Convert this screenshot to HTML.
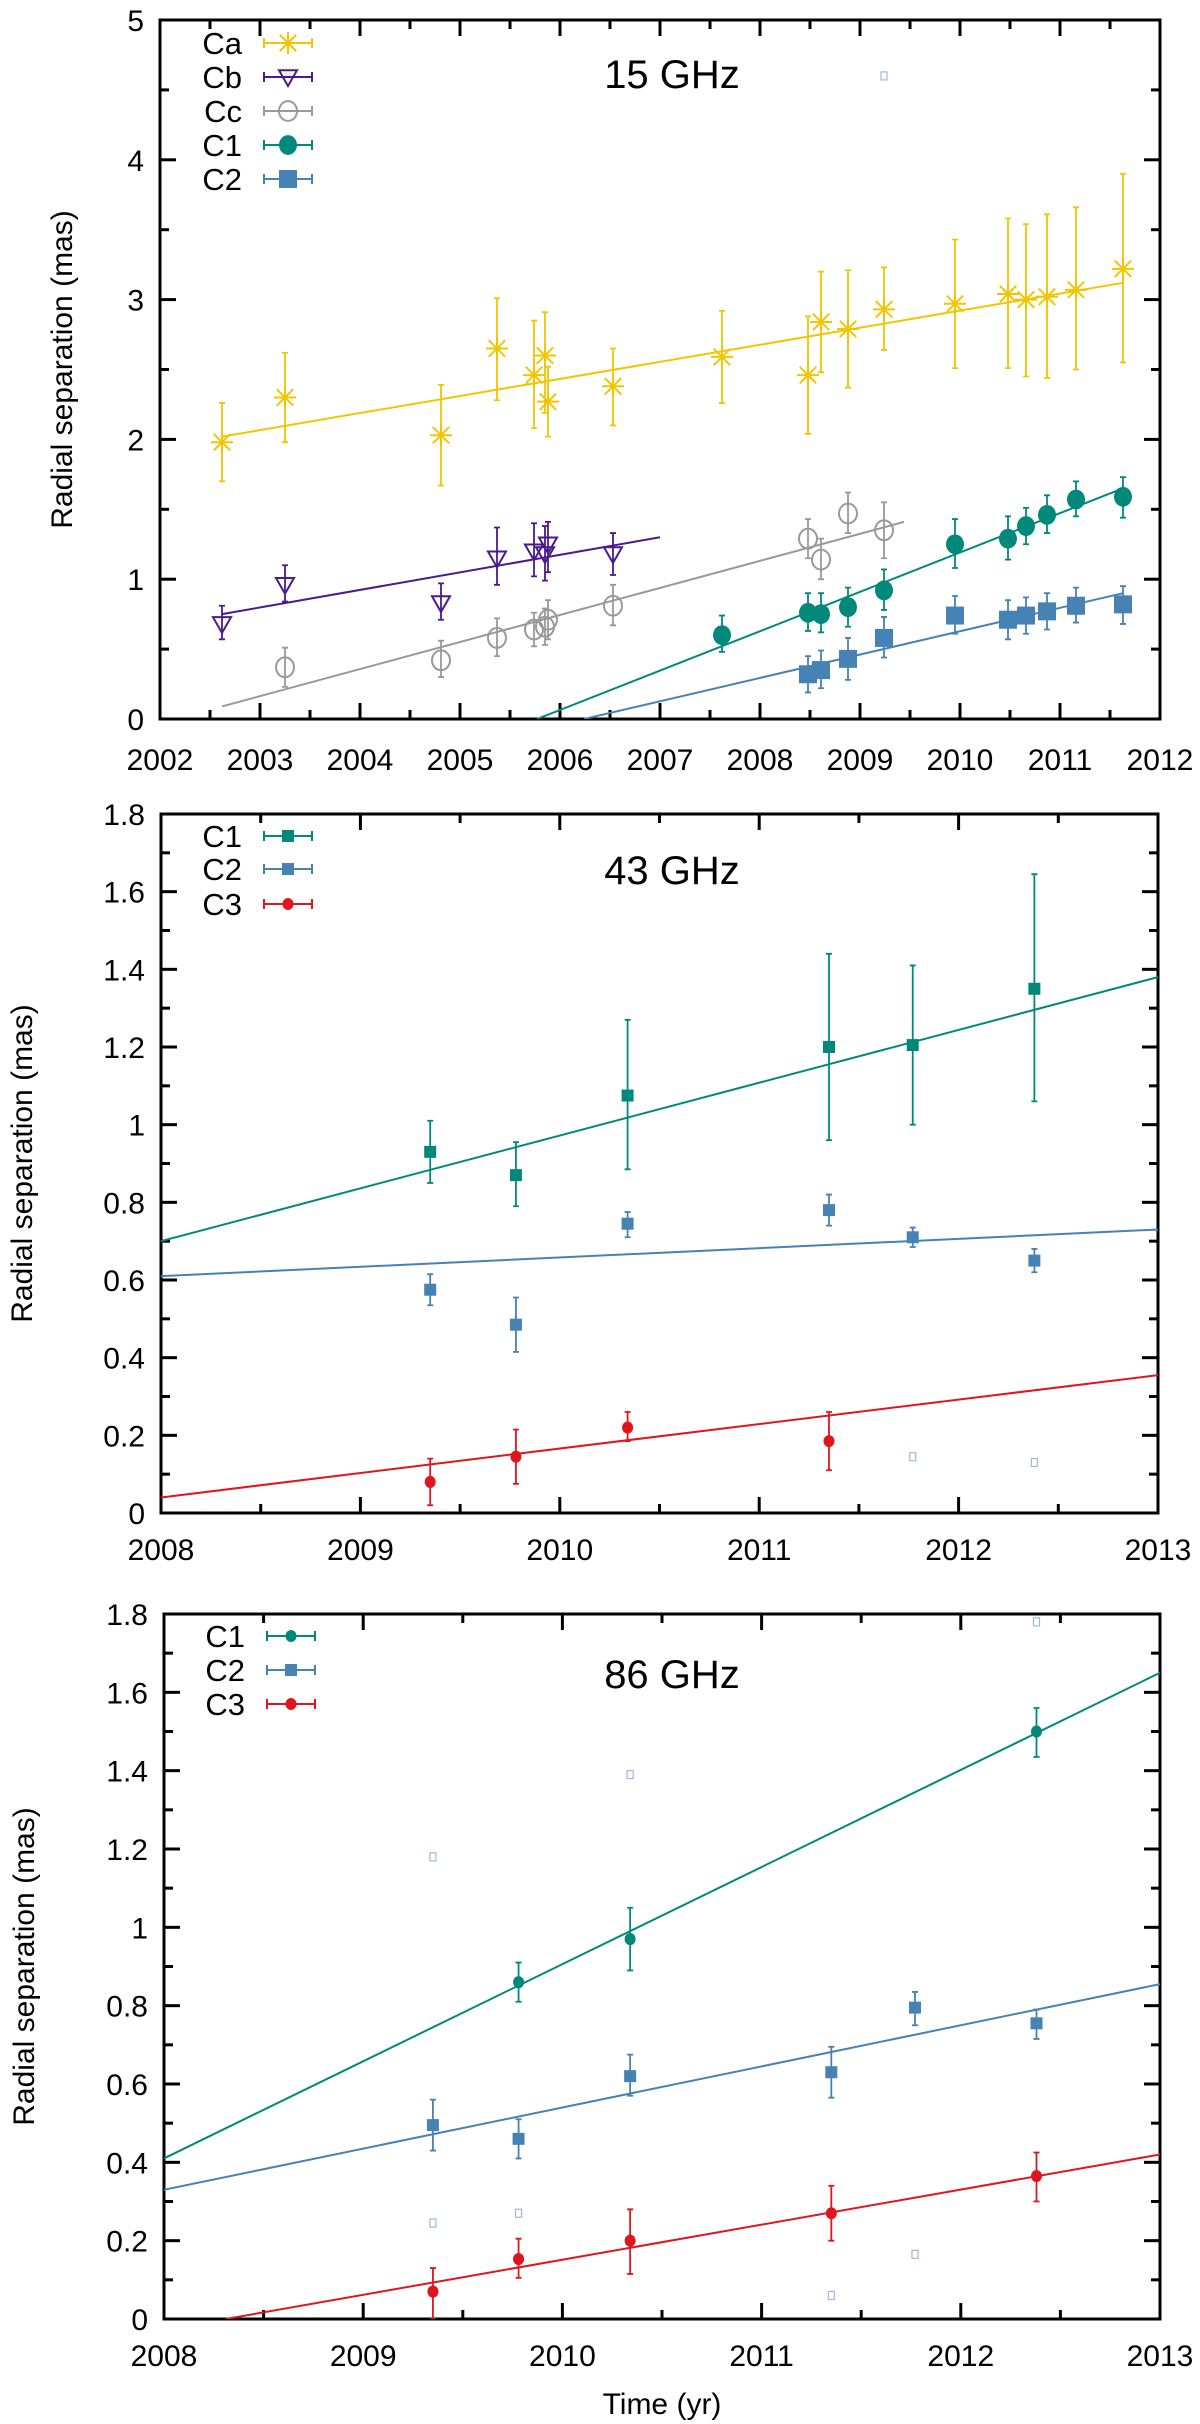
<!DOCTYPE html>
<html><head><meta charset="utf-8"><style>
html,body{margin:0;padding:0;background:#fff;}
svg{display:block;font-family:"Liberation Sans",sans-serif;}
</style></head><body>
<svg id="fig" width="1200" height="2424" viewBox="0 0 1200 2424" xmlns="http://www.w3.org/2000/svg"></svg>
<script>
// ---------- Panel 1 (15 GHz) data ----------
const p1CaT=[2002.62,2003.25,2004.81,2005.37,2005.74,2005.85,2005.88,2006.53,2007.62,2008.48,2008.61,2008.88,2009.24,2009.95,2010.48,2010.66,2010.87,2011.16,2011.63];
const p1CaV=[1.98,2.30,2.03,2.65,2.46,2.60,2.27,2.38,2.59,2.46,2.84,2.79,2.93,2.97,3.04,3.00,3.02,3.07,3.22];
const p1CaLo=[1.70,1.98,1.67,2.28,2.08,2.19,2.02,2.10,2.26,2.04,2.48,2.37,2.64,2.51,2.51,2.45,2.44,2.50,2.55];
const p1CaHi=[2.26,2.62,2.39,3.01,2.85,2.91,2.52,2.65,2.92,2.88,3.20,3.21,3.23,3.43,3.58,3.54,3.61,3.66,3.90];
const p1CaFit=[[2002.62,2.02],[2011.63,3.12]];
const p1CbT=[2002.62,2003.25,2004.81,2005.37,2005.74,2005.85,2005.88,2006.53];
const p1CbV=[0.68,0.96,0.83,1.15,1.20,1.18,1.25,1.18];
const p1CbLo=[0.57,0.84,0.71,0.96,1.02,0.99,1.05,1.03];
const p1CbHi=[0.81,1.10,0.97,1.37,1.40,1.38,1.41,1.33];
const p1CbFit=[[2002.62,0.75],[2007.0,1.30]];
const p1CcT=[2003.25,2004.81,2005.37,2005.74,2005.85,2005.88,2006.53,2008.48,2008.61,2008.88,2009.24];
const p1CcV=[0.37,0.42,0.58,0.64,0.66,0.71,0.81,1.29,1.14,1.47,1.35];
const p1CcLo=[0.23,0.30,0.45,0.52,0.53,0.57,0.67,1.15,1.00,1.33,1.15];
const p1CcHi=[0.51,0.56,0.72,0.76,0.79,0.85,0.96,1.43,1.29,1.62,1.55];
const p1CcFit=[[2002.62,0.09],[2009.44,1.41]];
const p1C1T=[2007.62,2008.48,2008.61,2008.88,2009.24,2009.95,2010.48,2010.66,2010.87,2011.16,2011.63];
const p1C1V=[0.60,0.76,0.75,0.80,0.92,1.25,1.29,1.38,1.46,1.57,1.59];
const p1C1Lo=[0.48,0.63,0.62,0.66,0.78,1.08,1.14,1.25,1.33,1.45,1.44];
const p1C1Hi=[0.74,0.90,0.90,0.94,1.07,1.43,1.45,1.51,1.60,1.70,1.73];
const p1C1Fit=[[2005.77,0],[2011.63,1.65]];
const p1C2T=[2008.48,2008.61,2008.88,2009.24,2009.95,2010.48,2010.66,2010.87,2011.16,2011.63];
const p1C2V=[0.32,0.35,0.43,0.58,0.74,0.71,0.74,0.77,0.81,0.82];
const p1C2Lo=[0.19,0.22,0.28,0.44,0.61,0.57,0.61,0.64,0.69,0.68];
const p1C2Hi=[0.45,0.49,0.58,0.73,0.88,0.85,0.87,0.90,0.94,0.95];
const p1C2Fit=[[2006.24,0],[2011.63,0.90]];
const p1StrayT=[2009.24];
const p1StrayV=[4.60];
const p1XTicks=[2002,2003,2004,2005,2006,2007,2008,2009,2010,2011,2012];
const p1YTicks=[0,1,2,3,4,5];

// ---------- Panel 2 (43 GHz) data ----------
const p2T=[2009.35,2009.78,2010.34,2011.35,2011.77,2012.38];
const p2C1V=[0.93,0.87,1.075,1.20,1.205,1.35];
const p2C1Lo=[0.85,0.79,0.885,0.96,1.00,1.06];
const p2C1Hi=[1.01,0.955,1.27,1.44,1.41,1.645];
const p2C1Fit=[[2008,0.70],[2013,1.38]];
const p2C2V=[0.575,0.485,0.745,0.78,0.71,0.65];
const p2C2Lo=[0.535,0.415,0.71,0.74,0.685,0.62];
const p2C2Hi=[0.615,0.555,0.775,0.82,0.735,0.68];
const p2C2Fit=[[2008,0.61],[2013,0.73]];
const p2C3T=[2009.35,2009.78,2010.34,2011.35];
const p2C3V=[0.08,0.145,0.22,0.185];
const p2C3Lo=[0.02,0.075,0.185,0.11];
const p2C3Hi=[0.14,0.215,0.26,0.26];
const p2C3Fit=[[2008,0.04],[2013,0.355]];
const p2StrayT=[2011.77,2012.38];
const p2StrayV=[0.145,0.13];

// ---------- Panel 3 (86 GHz) data ----------
const p3C1T=[2009.78,2010.34,2012.38];
const p3C1V=[0.86,0.97,1.50];
const p3C1Lo=[0.81,0.89,1.435];
const p3C1Hi=[0.91,1.05,1.56];
const p3C1Fit=[[2008,0.41],[2013,1.65]];
const p3C2T=[2009.35,2009.78,2010.34,2011.35,2011.77,2012.38];
const p3C2V=[0.495,0.46,0.62,0.63,0.795,0.755];
const p3C2Lo=[0.43,0.41,0.57,0.565,0.75,0.715];
const p3C2Hi=[0.56,0.51,0.675,0.695,0.835,0.79];
const p3C2Fit=[[2008,0.33],[2013,0.855]];
const p3C3T=[2009.35,2009.78,2010.34,2011.35,2012.38];
const p3C3V=[0.07,0.153,0.20,0.27,0.365];
const p3C3Lo=[0.0,0.105,0.115,0.20,0.30];
const p3C3Hi=[0.13,0.205,0.28,0.34,0.425];
const p3C3Fit=[[2008.31,0],[2013,0.42]];
const p3StrayT=[2012.38,2010.34,2009.35,2009.35,2009.78,2011.77,2011.35];
const p3StrayV=[1.78,1.39,1.18,0.245,0.27,0.165,0.06];
const p23XTicks=[2008,2009,2010,2011,2012,2013];
const p23YTicks=[0,0.2,0.4,0.6,0.8,1,1.2,1.4,1.6,1.8];

const COL={ca:"#f2c500",cb:"#4b1a8c",cc:"#999999",c1:"#00897b",c2:"#4682b4",c3:"#e0161e"};
const NS="http://www.w3.org/2000/svg";
const svg=document.getElementById('fig');
function mk(tag,attrs,parent){const e=document.createElementNS(NS,tag);for(const k in attrs)e.setAttribute(k,attrs[k]);(parent||svg).appendChild(e);return e;}

function makePanel(cfg){
  const g=mk('g',{});
  
  
  const sx=v=>cfg.L+(v-cfg.xmin)/(cfg.xmax-cfg.xmin)*(cfg.R-cfg.L);
  const sy=v=>cfg.B-(v-cfg.ymin)/(cfg.ymax-cfg.ymin)*(cfg.B-cfg.T);
  const ax=mk('g',{stroke:"#000","stroke-width":3},g);
  
  
  // ticks
  const xt=cfg.xticks;
  for(let i=0;i<xt.length;i++){
    const x=sx(xt[i]);
    mk('line',{x1:x,y1:cfg.B,x2:x,y2:cfg.B-16},ax);mk('line',{x1:x,y1:cfg.T,x2:x,y2:cfg.T+16},ax);
    if(i<xt.length-1){const xm=sx((xt[i]+xt[i+1])/2);mk('line',{x1:xm,y1:cfg.B,x2:xm,y2:cfg.B-9},ax);mk('line',{x1:xm,y1:cfg.T,x2:xm,y2:cfg.T+9},ax);}
    const t=mk('text',{x:x,y:cfg.xlabY,"text-anchor":"middle","font-size":30,fill:"#000",stroke:"none"},g);
    t.textContent=xt[i];
    
    
  }
  const yt=cfg.yticks;
  for(let i=0;i<yt.length;i++){
    const y=sy(yt[i]);
    mk('line',{x1:cfg.L,y1:y,x2:cfg.L+16,y2:y},ax);mk('line',{x1:cfg.R,y1:y,x2:cfg.R-16,y2:y},ax);
    if(i<yt.length-1){const ym=sy((yt[i]+yt[i+1])/2);mk('line',{x1:cfg.L,y1:ym,x2:cfg.L+9,y2:ym},ax);mk('line',{x1:cfg.R,y1:ym,x2:cfg.R-9,y2:ym},ax);}
    const t=mk('text',{x:cfg.L-16,y:y+11,"text-anchor":"end","font-size":30,fill:"#000",stroke:"none"},g);
    t.textContent=yt[i];
    
    
  }
  mk('rect',{x:cfg.L,y:cfg.T,width:cfg.R-cfg.L,height:cfg.B-cfg.T,fill:"none"},ax);
  // clip
  const cid='clip'+cfg.name;
  const cp=mk('clipPath',{id:cid},g);mk('rect',{x:cfg.L,y:cfg.T,width:cfg.R-cfg.L,height:cfg.B-cfg.T},cp);
  const pg=mk('g',{'clip-path':'url(#'+cid+')'},g);
  // strays
  if(cfg.strayT){for(let i=0;i<cfg.strayT.length;i++){
    const r=mk('rect',{x:sx(cfg.strayT[i])-3,y:sy(cfg.strayV[i])-4,width:6,height:8,fill:"none",stroke:"#9fb8d6","stroke-width":1.2},pg);
    
    
  }}
  for(const s of cfg.series){
    const sg=mk('g',{},pg);
    
    
    const ln=mk('line',{x1:sx(s.fit[0][0]),y1:sy(s.fit[0][1]),x2:sx(s.fit[1][0]),y2:sy(s.fit[1][1]),stroke:s.c,"stroke-width":2},sg);
    
    
    for(let i=0;i<s.t.length;i++){
      const x=sx(s.t[i]),y=sy(s.v[i]),ylo=sy(s.lo[i]),yhi=sy(s.hi[i]);
      const eb=mk('path',{d:`M${x},${ylo}V${yhi}M${x-3},${ylo}H${x+3}M${x-3},${yhi}H${x+3}`,stroke:s.c,"stroke-width":1.8,fill:"none"},sg);
      
      
      const m=marker(sg,s.m,x,y,s.c,s.size);
      
      
    }
  }
  // legend
  cfg.series.forEach((s,i)=>{
    const y=cfg.legY[i];
    const lg=mk('g',{},g);
    
    
    const t=mk('text',{x:cfg.legX,y:y+11,"text-anchor":"end","font-size":31,fill:"#000"},lg);
    t.textContent=s.label;
    mk('path',{d:`M${cfg.legX+22},${y}H${cfg.legX+70}M${cfg.legX+22},${y-5}V${y+5}M${cfg.legX+70},${y-5}V${y+5}`,stroke:s.c,"stroke-width":2},lg);
    marker(lg,s.m,cfg.legX+46,y,s.c,s.size);
  });
  const tt=mk('text',{x:672,y:cfg.T+cfg.titleDy,"text-anchor":"middle","font-size":40,fill:"#000"},g);
  tt.textContent=cfg.title;
  
  
  const yl=mk('text',{x:0,y:0,"text-anchor":"middle","font-size":30,fill:"#000",transform:`translate(${cfg.ylabX},${(cfg.T+cfg.B)/2}) rotate(-90)`},g);
  yl.textContent="Radial separation (mas)";
  
  
}
function marker(p,type,x,y,c,s){
  if(type==='star'){return mk('path',{d:`M${x-s},${y}H${x+s}M${x},${y-s}V${y+s}M${x-s*0.75},${y-s*0.75}L${x+s*0.75},${y+s*0.75}M${x-s*0.75},${y+s*0.75}L${x+s*0.75},${y-s*0.75}`,stroke:c,"stroke-width":2,fill:"none"},p);}
  if(type==='tri'){return mk('path',{d:`M${x-s},${y-s*0.75}H${x+s}L${x},${y+s}Z`,stroke:c,"stroke-width":2,fill:"none"},p);}
  if(type==='ocirc'){return mk('ellipse',{cx:x,cy:y,rx:s,ry:s*1.1,stroke:c,"stroke-width":2,fill:"none"},p);}
  if(type==='circ'){return mk('ellipse',{cx:x,cy:y,rx:s,ry:s*1.1,fill:c},p);}
  return mk('rect',{x:x-s,y:y-s,width:2*s,height:2*s,fill:c},p);
}
makePanel({name:'panel-15ghz',title:'15 GHz',L:160,R:1160,T:20,B:719,xmin:2002,xmax:2012,ymin:0,ymax:5,xticks:p1XTicks,yticks:p1YTicks,xlabY:770,ylabX:72,legX:242,legY:[43,77,111,145,179],titleDy:68,strayT:p1StrayT,strayV:p1StrayV,
 series:[
  {key:'ca',label:'Ca',c:COL.ca,m:'star',size:11,t:p1CaT,v:p1CaV,lo:p1CaLo,hi:p1CaHi,fit:p1CaFit},
  {key:'cb',label:'Cb',c:COL.cb,m:'tri',size:9,t:p1CbT,v:p1CbV,lo:p1CbLo,hi:p1CbHi,fit:p1CbFit},
  {key:'cc',label:'Cc',c:COL.cc,m:'ocirc',size:9,t:p1CcT,v:p1CcV,lo:p1CcLo,hi:p1CcHi,fit:p1CcFit},
  {key:'c1',label:'C1',c:COL.c1,m:'circ',size:9,t:p1C1T,v:p1C1V,lo:p1C1Lo,hi:p1C1Hi,fit:p1C1Fit},
  {key:'c2',label:'C2',c:COL.c2,m:'sq',size:9,t:p1C2T,v:p1C2V,lo:p1C2Lo,hi:p1C2Hi,fit:p1C2Fit}]});
makePanel({name:'panel-43ghz',title:'43 GHz',L:161,R:1158,T:814,B:1513,xmin:2008,xmax:2013,ymin:0,ymax:1.8,xticks:p23XTicks,yticks:p23YTicks,xlabY:1560,ylabX:32,legX:242,legY:[836,869,904],titleDy:70,strayT:p2StrayT,strayV:p2StrayV,
 series:[
  {key:'c1',label:'C1',c:COL.c1,m:'sq',size:6,t:p2T,v:p2C1V,lo:p2C1Lo,hi:p2C1Hi,fit:p2C1Fit},
  {key:'c2',label:'C2',c:COL.c2,m:'sq',size:6,t:p2T,v:p2C2V,lo:p2C2Lo,hi:p2C2Hi,fit:p2C2Fit},
  {key:'c3',label:'C3',c:COL.c3,m:'circ',size:5.5,t:p2C3T,v:p2C3V,lo:p2C3Lo,hi:p2C3Hi,fit:p2C3Fit}]});
makePanel({name:'panel-86ghz',title:'86 GHz',L:164,R:1160,T:1614,B:2319,xmin:2008,xmax:2013,ymin:0,ymax:1.8,xticks:p23XTicks,yticks:p23YTicks,xlabY:2366,ylabX:34,legX:245,legY:[1636,1670,1704],titleDy:74,strayT:p3StrayT,strayV:p3StrayV,
 series:[
  {key:'c1',label:'C1',c:COL.c1,m:'circ',size:5.5,t:p3C1T,v:p3C1V,lo:p3C1Lo,hi:p3C1Hi,fit:p3C1Fit},
  {key:'c2',label:'C2',c:COL.c2,m:'sq',size:6,t:p3C2T,v:p3C2V,lo:p3C2Lo,hi:p3C2Hi,fit:p3C2Fit},
  {key:'c3',label:'C3',c:COL.c3,m:'circ',size:5.5,t:p3C3T,v:p3C3V,lo:p3C3Lo,hi:p3C3Hi,fit:p3C3Fit}]});
const xt=mk('text',{x:662,y:2414,"text-anchor":"middle","font-size":30,fill:"#000"});
xt.textContent="Time (yr)";


</script>
</body></html>
